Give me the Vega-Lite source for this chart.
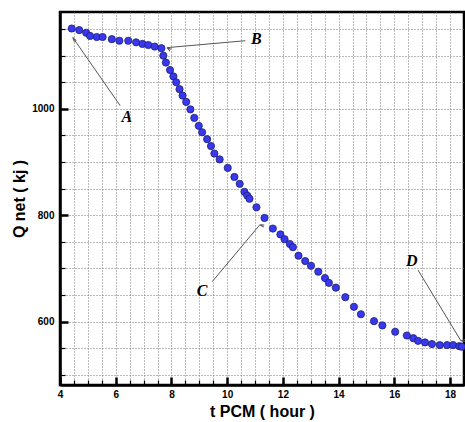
{
  "$schema": "https://vega.github.io/schema/vega-lite/v6.json",
  "autosize": "none",
  "width": 404,
  "height": 373,
  "padding": {"left": 60, "top": 12, "right": 1, "bottom": 37},
  "background": "white",
  "config": {
    "view": {"stroke": "black", "strokeWidth": 2.5},
    "axis": {
      "domainColor": "black",
      "domainWidth": 2.5,
      "tickColor": "black",
      "gridColor": "#777",
      "gridDash": [1, 2],
      "gridWidth": 1,
      "labelFont": "Liberation Sans",
      "labelFontWeight": "bold",
      "labelFontSize": 10,
      "labelColor": "black",
      "titleFont": "Liberation Sans",
      "titleFontWeight": "bold",
      "titleFontSize": 16,
      "titleColor": "black"
    }
  },
  "datasets": {
    "pts": [
      {"t": 4.42, "q": 1151}, {"t": 4.69, "q": 1148}, {"t": 4.94, "q": 1143}, {"t": 5.08, "q": 1137},
      {"t": 5.32, "q": 1135}, {"t": 5.53, "q": 1135}, {"t": 5.86, "q": 1131}, {"t": 6.13, "q": 1128},
      {"t": 6.45, "q": 1128}, {"t": 6.73, "q": 1125}, {"t": 6.96, "q": 1122}, {"t": 7.17, "q": 1120},
      {"t": 7.40, "q": 1117}, {"t": 7.64, "q": 1114}, {"t": 7.71, "q": 1100}, {"t": 7.80, "q": 1087},
      {"t": 7.95, "q": 1073}, {"t": 8.07, "q": 1061}, {"t": 8.17, "q": 1050}, {"t": 8.29, "q": 1037},
      {"t": 8.40, "q": 1025}, {"t": 8.53, "q": 1013}, {"t": 8.68, "q": 999}, {"t": 8.82, "q": 983},
      {"t": 8.98, "q": 968}, {"t": 9.10, "q": 956}, {"t": 9.28, "q": 943}, {"t": 9.42, "q": 930},
      {"t": 9.54, "q": 916}, {"t": 9.73, "q": 905}, {"t": 10.02, "q": 889}, {"t": 10.26, "q": 872},
      {"t": 10.45, "q": 859}, {"t": 10.62, "q": 844}, {"t": 10.72, "q": 837}, {"t": 10.80, "q": 831},
      {"t": 11.05, "q": 815}, {"t": 11.34, "q": 795}, {"t": 11.64, "q": 775}, {"t": 11.91, "q": 764},
      {"t": 12.06, "q": 755}, {"t": 12.25, "q": 746}, {"t": 12.36, "q": 740}, {"t": 12.56, "q": 724},
      {"t": 12.80, "q": 714}, {"t": 13.01, "q": 705}, {"t": 13.27, "q": 694}, {"t": 13.51, "q": 682},
      {"t": 13.65, "q": 673}, {"t": 13.90, "q": 664}, {"t": 14.24, "q": 646}, {"t": 14.55, "q": 628},
      {"t": 14.80, "q": 614}, {"t": 15.27, "q": 601}, {"t": 15.57, "q": 593}, {"t": 16.03, "q": 581},
      {"t": 16.45, "q": 574}, {"t": 16.68, "q": 569}, {"t": 16.85, "q": 564}, {"t": 17.10, "q": 561},
      {"t": 17.35, "q": 558}, {"t": 17.63, "q": 556}, {"t": 17.89, "q": 556}, {"t": 18.11, "q": 556},
      {"t": 18.33, "q": 554}, {"t": 18.42, "q": 553}
    ],
    "notes": [
      {"label": "A", "lt": 6.40, "lq": 985, "t0": 6.16, "q0": 1006, "t1": 4.46, "q1": 1134},
      {"label": "B", "lt": 11.05, "lq": 1131, "t0": 10.65, "q0": 1128, "t1": 7.84, "q1": 1115},
      {"label": "C", "lt": 9.10, "lq": 658, "t0": 9.46, "q0": 675, "t1": 11.17, "q1": 782},
      {"label": "D", "lt": 16.63, "lq": 714, "t0": 16.85, "q0": 697, "t1": 18.39, "q1": 564}
    ]
  },
  "resolve": {"axis": {"x": "independent", "y": "independent"}},
  "layer": [
    {
      "data": {"name": "pts"},
      "mark": {"type": "point", "filled": true, "shape": "circle", "size": 52, "fill": "#3838f0", "stroke": "#20206a", "strokeWidth": 0.8, "opacity": 1},
      "encoding": {
        "x": {
          "field": "t", "type": "quantitative",
          "scale": {"domain": [4, 18.5], "nice": false, "zero": false},
          "axis": {
            "orient": "bottom",
            "title": null,
            "labels": false,
            "values": [4, 4.5, 5, 5.5, 6, 6.5, 7, 7.5, 8, 8.5, 9, 9.5, 10, 10.5, 11, 11.5, 12, 12.5, 13, 13.5, 14, 14.5, 15, 15.5, 16, 16.5, 17, 17.5, 18],
            "tickSize": -5,
            "tickWidth": 1.2,
            "grid": true
          }
        },
        "y": {
          "field": "q", "type": "quantitative",
          "scale": {"domain": [481, 1182], "nice": false, "zero": false},
          "axis": {
            "orient": "left",
            "title": null,
            "labels": false,
            "values": [500, 550, 600, 650, 700, 750, 800, 850, 900, 950, 1000, 1050, 1100, 1150],
            "tickSize": -5,
            "tickWidth": 1.2,
            "grid": true
          }
        }
      }
    },
    {
      "data": {"name": "notes"},
      "mark": {"type": "rule", "color": "#555", "strokeWidth": 1},
      "encoding": {
        "x": {
          "field": "t0", "type": "quantitative",
          "axis": {
            "orient": "bottom",
            "title": "t PCM ( hour )",
            "values": [4, 6, 8, 10, 12, 14, 16, 18],
            "format": "d",
            "domain": false,
            "grid": false,
            "tickSize": -8,
            "tickWidth": 2.5,
            "labelPadding": 12,
            "labelFlush": false,
            "labelOverlap": false,
            "titlePadding": 4
          }
        },
        "y": {
          "field": "q0", "type": "quantitative",
          "axis": {
            "orient": "left",
            "title": "Q net ( kj )",
            "values": [600, 800, 1000],
            "format": "d",
            "domain": false,
            "grid": false,
            "tickSize": -8,
            "tickWidth": 2.5,
            "labelPadding": 14,
            "labelOverlap": false,
            "titlePadding": 4
          }
        },
        "x2": {"field": "t1"},
        "y2": {"field": "q1"}
      }
    },
    {
      "data": {"name": "notes"},
      "mark": {"type": "point", "shape": "M -0.35 1.4 L 0 0 L 0.35 1.4", "filled": false, "stroke": "#555", "strokeWidth": 1, "size": 40, "opacity": 1},
      "encoding": {
        "x": {"field": "t1", "type": "quantitative", "axis": null},
        "y": {"field": "q1", "type": "quantitative", "axis": null},
        "angle": {"field": "label", "type": "nominal", "scale": {"domain": ["A", "B", "C", "D"], "range": [325, 265, 40, 149]}, "legend": null}
      }
    },
    {
      "data": {"name": "notes"},
      "mark": {"type": "text", "font": "Liberation Serif", "fontStyle": "italic", "fontWeight": "bold", "fontSize": 16, "color": "black"},
      "encoding": {
        "x": {"field": "lt", "type": "quantitative", "axis": null},
        "y": {"field": "lq", "type": "quantitative", "axis": null},
        "text": {"field": "label"}
      }
    }
  ]
}
